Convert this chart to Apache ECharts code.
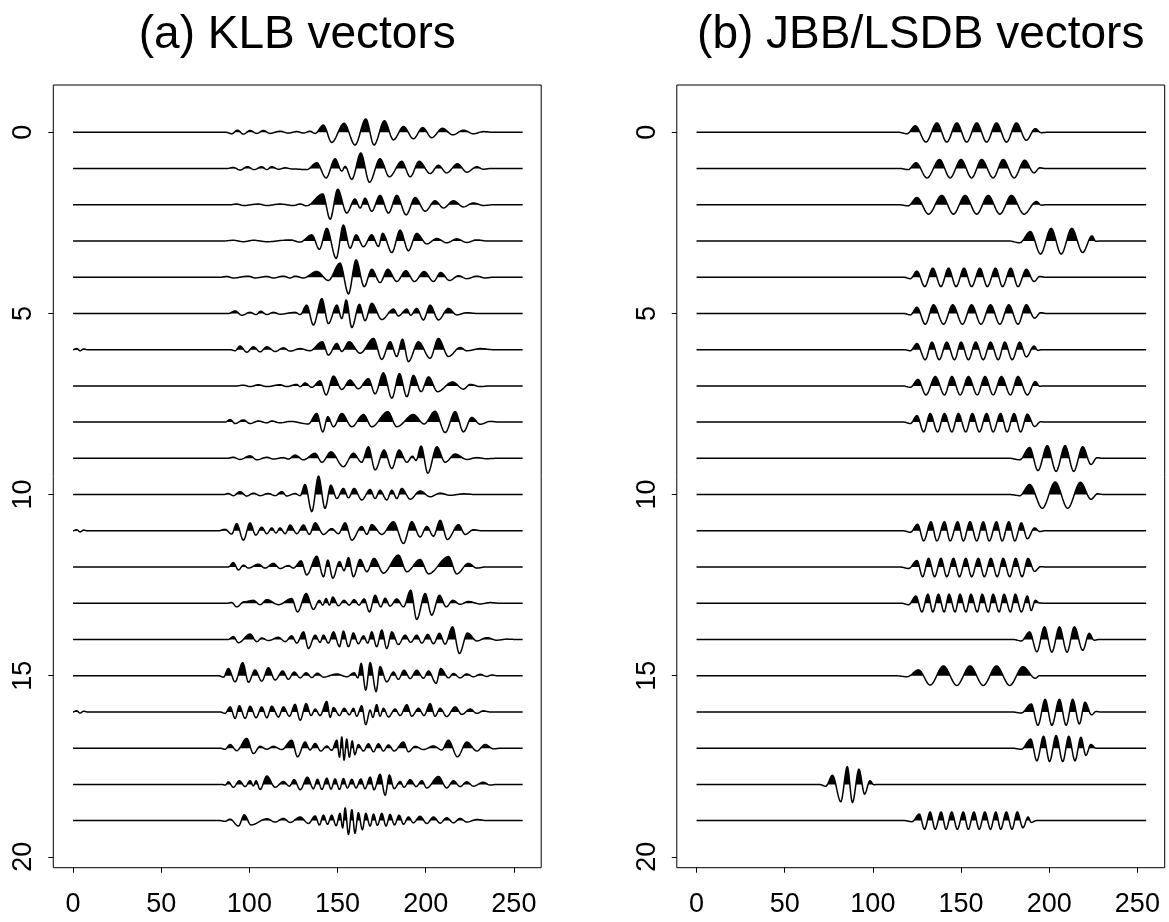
<!DOCTYPE html>
<html>
<head>
<meta charset="utf-8">
<script src="https://cdn.jsdelivr.net/npm/echarts@6/dist/echarts.min.js"></script>
<style>
  html, body { margin: 0; padding: 0; background: #fff; }
  #chart { width: 1169px; height: 922px; }
</style>
</head>
<body>
<div id="chart"></div>
<script>
// Tick positions and trace extent (sample index 0..255)
const X_TICKS = [0, 50, 100, 150, 200, 250];
const Y_TICKS = [0, 5, 10, 15, 20];
const TRACE_START = 0;
const TRACE_END = 255;
const TITLES = ['(a) KLB vectors', '(b) JBB/LSDB vectors'];

// Each vector: list of [sample position, amplitude] at its local extrema.
// Row i is drawn with its baseline at y = i; positive amplitude points up.
const klbVectors = [
  [[90.0,-0.04],[93.2,0.06],[96.6,-0.05],[100.4,0.05],[104.2,-0.03],[107.9,0.05],[111.7,-0.03],[117.4,0.03],[122.1,-0.02],[126.9,0.02],[130.7,-0.02],[134.4,0.03],[137.3,-0.03],[142.0,0.2],[146.7,-0.28],[153.7,0.25],[159.9,-0.35],[166.0,0.37],[170.7,-0.35],[176.6,0.32],[181.7,-0.21],[187.4,0.16],[193.0,-0.18],[198.3,0.13],[203.4,-0.15],[209.5,0.11],[215.4,-0.07],[221.4,0.06],[227.1,-0.04],[232.7,0.02]],
  [[90.9,0.03],[94.7,-0.04],[98.9,0.05],[102.7,-0.03],[107.0,0.05],[109.9,-0.03],[112.7,0.05],[116.5,-0.02],[120.3,0.02],[124.0,-0.01],[132.5,-0.03],[138.2,0.16],[143.5,-0.26],[148.6,0.27],[152.4,-0.07],[154.3,0.06],[158.1,-0.3],[163.2,0.43],[168.1,-0.38],[174.1,0.27],[179.4,-0.23],[186.4,0.2],[191.2,-0.23],[196.3,0.2],[202.5,-0.14],[207.2,0.09],[211.9,-0.12],[218.0,0.13],[223.3,-0.1],[229.0,0.05],[232.7,-0.02]],
  [[92.8,0.02],[96.6,-0.02],[105.1,0.02],[109.9,-0.02],[117.4,0.02],[125.0,-0.02],[128.8,0.02],[132.5,-0.03],[141.6,0.3],[145.8,-0.4],[150.1,0.43],[155.2,-0.23],[159.9,0.16],[162.8,-0.09],[165.6,0.18],[169.4,-0.18],[174.1,0.26],[178.9,-0.23],[183.6,0.26],[188.9,-0.28],[194.0,0.2],[199.7,-0.18],[205.3,0.11],[210.1,-0.09],[215.7,0.11],[221.4,-0.06],[227.1,0.05],[232.7,-0.02]],
  [[90.9,0.02],[96.6,-0.02],[102.3,0.02],[109.9,-0.02],[123.1,0.03],[128.8,-0.03],[135.4,0.17],[139.7,-0.23],[143.9,0.35],[149.2,-0.48],[153.3,0.44],[157.1,-0.2],[160.5,0.17],[164.7,-0.16],[169.4,0.17],[173.2,-0.15],[175.6,0.21],[180.8,-0.32],[185.5,0.3],[190.2,-0.27],[194.9,0.21],[200.6,-0.08],[206.3,0.07],[211.9,-0.05],[217.6,0.06],[223.3,-0.04],[229.0,0.03]],
  [[87.2,0.02],[90.9,-0.02],[99.5,0.03],[103.2,-0.02],[109.9,0.02],[113.6,-0.02],[119.3,0.03],[123.1,-0.02],[125.9,0.03],[130.7,-0.02],[138.2,0.16],[144.8,-0.09],[151.4,0.39],[156.2,-0.46],[160.5,0.48],[165.1,-0.26],[169.4,0.22],[174.1,-0.15],[178.5,0.22],[183.6,-0.12],[188.7,0.18],[193.6,-0.12],[199.1,0.16],[204.4,-0.12],[208.5,0.13],[213.5,-0.09],[218.6,0.04],[223.3,-0.04],[229.0,0.03],[233.7,-0.02]],
  [[91.9,0.07],[95.7,-0.05],[100.4,0.03],[103.8,-0.03],[106.4,0.06],[109.9,-0.03],[113.6,0.03],[117.4,-0.02],[125.9,0.03],[128.8,-0.03],[132.5,0.23],[136.3,-0.32],[141.1,0.41],[144.8,-0.28],[149.6,0.23],[152.4,-0.14],[154.9,0.37],[158.1,-0.39],[162.4,0.25],[165.6,-0.2],[169.4,0.28],[175.1,-0.17],[181.7,0.12],[184.5,-0.07],[189.3,0.12],[191.5,-0.05],[194.9,0.14],[198.7,-0.18],[202.5,0.23],[207.2,-0.18],[212.9,0.14],[217.6,-0.04],[223.3,0.02]],
  [[2.0,0.03],[4.0,-0.03],[6.0,0.02],[91.9,-0.03],[94.7,0.1],[98.5,-0.07],[102.3,0.08],[106.1,-0.06],[109.9,0.08],[114.6,-0.05],[119.3,0.05],[123.1,-0.04],[128.8,0.03],[134.4,-0.03],[141.4,0.22],[144.8,-0.15],[149.6,0.17],[152.4,-0.05],[156.6,0.22],[162.8,-0.1],[170.4,0.31],[175.1,-0.27],[179.8,0.22],[183.6,-0.19],[186.8,0.29],[190.2,-0.33],[195.9,0.22],[202.5,-0.24],[207.2,0.31],[212.9,-0.19],[219.5,0.06],[223.3,-0.03],[230.9,0.03]],
  [[96.6,0.02],[100.4,-0.02],[105.1,0.03],[109.9,-0.02],[117.4,0.03],[121.2,-0.02],[126.9,0.04],[128.8,-0.02],[131.6,0.08],[135.4,-0.04],[140.1,0.14],[143.5,-0.25],[147.7,0.27],[152.4,-0.1],[157.1,0.16],[161.8,-0.08],[167.5,0.2],[171.3,-0.22],[176.0,0.36],[180.8,-0.34],[185.1,0.34],[189.3,-0.3],[193.0,0.29],[197.4,-0.16],[201.6,0.25],[206.7,-0.16],[215.2,0.11],[221.4,-0.09],[225.2,0.04],[230.9,-0.02]],
  [[89.1,0.07],[91.9,-0.04],[96.6,0.06],[100.4,-0.04],[105.1,0.03],[109.9,-0.02],[112.7,0.03],[117.4,-0.02],[123.1,0.02],[133.5,-0.05],[138.2,0.24],[141.6,-0.27],[144.5,0.15],[147.7,-0.13],[152.4,0.24],[158.1,-0.13],[164.7,0.21],[169.4,-0.13],[178.5,0.29],[183.6,-0.13],[193.0,0.21],[199.1,-0.05],[205.3,0.3],[211.0,-0.29],[216.7,0.29],[221.4,-0.27],[226.1,0.13],[230.9,-0.06],[236.5,0.02]],
  [[90.9,0.03],[94.7,-0.03],[100.4,0.07],[104.2,-0.04],[109.9,0.03],[113.6,-0.02],[119.3,0.02],[122.1,-0.02],[125.9,0.09],[130.7,-0.04],[137.3,0.14],[141.1,-0.11],[146.3,0.18],[153.3,-0.23],[159.0,0.14],[163.7,-0.11],[167.5,0.32],[171.3,-0.32],[176.4,0.23],[180.8,-0.28],[184.9,0.23],[189.3,-0.11],[192.5,0.06],[194.5,-0.06],[197.4,0.34],[201.2,-0.41],[206.3,0.32],[211.0,-0.11],[216.7,0.12],[223.3,-0.03],[229.0,0.02],[234.6,-0.01]],
  [[88.1,0.03],[90.9,-0.03],[94.7,0.08],[98.5,-0.04],[102.3,0.04],[106.1,-0.03],[110.8,0.03],[114.6,-0.03],[118.4,0.08],[121.2,-0.04],[125.9,0.03],[128.8,-0.03],[131.6,0.28],[135.4,-0.47],[139.2,0.51],[142.9,-0.38],[146.2,0.26],[149.6,-0.11],[153.3,0.17],[156.2,-0.09],[159.4,0.17],[163.7,-0.15],[168.5,0.14],[171.3,-0.11],[174.1,0.12],[177.9,-0.15],[180.8,0.12],[183.6,-0.11],[186.4,0.17],[191.2,-0.13],[196.8,0.1],[202.5,-0.06],[208.2,0.04],[213.8,-0.02],[221.4,0.02]],
  [[2.0,0.03],[4.0,-0.03],[6.0,0.02],[86.2,0.04],[90.0,-0.09],[92.8,0.2],[96.6,-0.26],[100.4,0.22],[103.6,-0.12],[107.0,0.1],[109.9,-0.08],[112.7,0.08],[115.1,-0.06],[117.4,0.08],[120.3,-0.08],[123.1,0.16],[126.9,-0.08],[130.7,0.16],[134.0,-0.1],[137.3,0.22],[142.0,-0.1],[146.7,0.06],[150.5,-0.08],[154.3,0.22],[158.1,-0.26],[163.7,0.12],[166.6,-0.1],[169.4,0.17],[175.1,-0.1],[181.7,0.25],[187.4,-0.35],[192.1,0.25],[196.8,-0.17],[200.6,0.12],[204.4,-0.15],[208.2,0.29],[212.3,-0.24],[218.6,0.17],[222.4,-0.1],[227.1,0.03]],
  [[90.9,0.12],[93.8,-0.08],[96.6,0.05],[99.5,-0.03],[105.1,0.08],[108.9,-0.03],[113.6,0.1],[117.4,-0.04],[122.1,0.04],[125.0,-0.03],[129.3,0.17],[132.5,-0.22],[138.2,0.3],[142.0,-0.27],[144.5,0.19],[147.3,-0.31],[151.1,0.15],[153.7,-0.1],[156.2,0.26],[159.0,-0.27],[162.8,0.21],[166.6,-0.13],[170.7,0.24],[176.0,-0.17],[184.5,0.33],[189.3,-0.13],[196.8,0.21],[201.6,-0.19],[212.9,0.29],[217.6,-0.19],[224.2,0.1],[229.0,-0.03]],
  [[90.0,0.02],[92.8,-0.1],[97.0,0.04],[102.3,0.08],[106.1,-0.04],[109.9,0.1],[116.5,-0.04],[124.0,0.13],[127.3,-0.24],[132.2,0.27],[136.3,-0.17],[139.7,0.08],[141.6,-0.05],[143.5,0.13],[145.4,-0.05],[147.3,0.17],[150.5,-0.07],[153.7,0.08],[156.6,-0.05],[159.4,0.1],[162.2,-0.05],[165.1,0.12],[168.1,-0.24],[171.3,0.22],[174.5,-0.1],[177.0,0.14],[179.8,-0.08],[183.6,0.12],[187.4,-0.1],[191.5,0.36],[194.9,-0.45],[199.7,0.27],[203.4,-0.33],[207.8,0.22],[211.6,-0.1],[215.4,0.08],[219.5,-0.03],[224.2,0.05],[230.9,-0.02],[236.5,0.02]],
  [[90.9,0.08],[93.8,-0.09],[100.4,0.15],[104.2,-0.06],[107.0,0.04],[110.8,-0.03],[116.5,0.06],[120.3,-0.06],[124.0,0.1],[126.9,-0.1],[130.7,0.21],[133.5,-0.25],[137.3,0.12],[140.1,-0.08],[142.0,0.12],[144.8,-0.1],[147.7,0.21],[151.1,-0.2],[153.3,0.23],[156.2,-0.2],[159.0,0.18],[161.8,-0.12],[164.7,0.1],[167.1,-0.1],[169.4,0.21],[172.2,-0.2],[175.1,0.26],[177.9,-0.25],[180.8,0.21],[184.5,-0.14],[188.3,0.12],[191.5,-0.08],[194.9,0.12],[197.8,-0.1],[201.2,0.14],[204.4,-0.12],[207.8,0.17],[211.0,-0.13],[215.2,0.35],[219.1,-0.39],[223.7,0.18],[229.0,-0.04],[234.6,0.05],[240.3,-0.02],[246.0,0.01]],
  [[85.3,-0.04],[88.1,0.2],[91.9,-0.17],[96.2,0.36],[99.5,-0.18],[103.2,0.16],[107.0,-0.15],[110.8,0.22],[114.6,-0.12],[118.9,0.13],[122.1,-0.1],[125.4,0.1],[128.8,-0.06],[132.2,0.08],[135.4,-0.05],[138.6,0.07],[142.0,-0.04],[149.6,0.05],[155.2,-0.03],[159.4,0.08],[161.5,-0.06],[163.4,0.34],[166.0,-0.4],[168.5,0.36],[171.9,-0.44],[174.1,0.25],[177.9,-0.17],[181.7,0.1],[184.5,-0.1],[187.7,0.15],[191.2,-0.08],[194.9,0.15],[198.7,-0.07],[201.6,0.13],[205.9,-0.21],[208.5,0.2],[212.9,-0.06],[215.7,0.06],[219.5,-0.06],[223.3,0.05],[227.1,-0.03],[230.9,0.04],[234.6,-0.02],[237.5,0.02]],
  [[2.0,0.03],[4.0,-0.03],[6.0,0.02],[86.2,-0.04],[89.1,0.14],[91.9,-0.18],[94.3,0.17],[97.6,-0.18],[100.4,0.16],[103.8,-0.16],[107.0,0.14],[109.9,-0.16],[112.7,0.16],[116.5,-0.14],[119.3,0.14],[122.7,-0.12],[125.9,0.21],[128.8,-0.23],[132.2,0.23],[135.0,-0.1],[137.3,0.08],[140.1,-0.1],[143.9,0.29],[145.8,-0.15],[147.7,0.12],[151.1,-0.1],[153.7,0.1],[156.7,-0.08],[159.0,0.1],[160.9,-0.12],[163.7,0.17],[166.0,-0.35],[168.5,0.05],[170.0,-0.15],[172.2,0.2],[174.1,-0.12],[176.0,0.1],[178.9,-0.14],[182.6,0.08],[185.5,-0.1],[189.3,0.2],[192.1,-0.12],[195.9,0.1],[199.1,-0.1],[202.5,0.23],[205.3,-0.12],[208.2,0.1],[211.9,-0.13],[216.7,0.14],[220.5,-0.07],[225.2,0.08],[229.0,-0.04],[232.7,0.03]],
  [[86.2,-0.03],[89.1,0.1],[92.8,-0.07],[98.5,0.27],[102.3,-0.15],[106.1,0.05],[109.9,-0.03],[113.6,0.05],[118.4,-0.04],[124.0,0.22],[127.3,-0.24],[131.6,0.17],[134.4,-0.05],[137.3,0.13],[140.5,-0.08],[143.9,0.06],[146.7,-0.06],[149.6,0.22],[151.1,-0.25],[152.4,0.31],[153.7,-0.33],[155.2,0.25],[156.7,-0.25],[158.3,0.2],[159.8,-0.18],[161.8,0.1],[164.7,-0.08],[167.5,0.12],[170.4,-0.1],[173.2,0.12],[176.0,-0.08],[178.9,0.09],[182.1,-0.08],[187.4,0.17],[190.2,-0.1],[194.0,0.05],[198.7,-0.04],[204.4,0.06],[209.1,-0.05],[212.9,0.22],[218.0,-0.24],[223.3,0.17],[229.0,-0.08],[233.7,0.1],[238.4,-0.02]],
  [[86.2,-0.02],[88.1,0.07],[90.9,-0.08],[94.3,0.1],[97.6,-0.06],[100.4,0.1],[102.3,-0.04],[103.8,0.1],[106.1,-0.14],[109.9,0.23],[114.6,-0.08],[119.3,0.08],[122.7,-0.05],[125.4,0.13],[128.8,-0.15],[132.9,0.2],[136.3,-0.12],[138.6,0.14],[141.1,-0.14],[143.9,0.17],[146.3,-0.13],[148.6,0.15],[151.1,-0.14],[153.3,0.16],[155.6,-0.1],[158.1,0.14],[160.5,-0.1],[163.2,0.15],[165.6,-0.12],[168.5,0.2],[170.7,-0.15],[174.1,0.28],[177.0,-0.3],[179.4,0.26],[182.1,-0.12],[185.5,0.08],[187.7,-0.08],[191.2,0.13],[194.6,-0.06],[197.8,0.1],[200.6,-0.1],[207.2,0.22],[211.9,-0.1],[215.7,0.1],[219.5,-0.06],[223.3,0.07],[227.1,-0.05],[232.7,0.06],[236.5,-0.02]],
  [[86.2,-0.02],[89.1,0.04],[93.8,-0.15],[97.1,0.16],[100.9,-0.12],[109.9,0.05],[114.6,-0.04],[119.3,0.06],[123.1,-0.05],[128.8,0.1],[133.5,-0.08],[137.3,0.13],[139.7,-0.12],[142.0,0.15],[144.3,-0.1],[146.7,0.15],[149.2,-0.14],[151.4,0.2],[152.9,-0.2],[154.3,0.35],[156.2,-0.38],[158.1,0.3],[159.9,-0.35],[161.8,0.22],[164.1,-0.25],[166.0,0.2],[168.5,-0.15],[170.4,0.18],[172.6,-0.13],[175.1,0.2],[177.5,-0.15],[179.8,0.17],[182.3,-0.12],[184.9,0.15],[187.4,-0.1],[190.2,0.1],[193.0,-0.06],[196.8,0.12],[200.6,-0.08],[204.4,0.1],[208.2,-0.07],[211.9,0.08],[215.7,-0.06],[219.5,0.06],[223.3,-0.04],[229.0,0.03]]
];

const jbbVectors = [
  [[119.4,-0.04],[124.1,0.18],[130.1,-0.27],[136.3,0.26],[141.9,-0.27],[147.6,0.26],[153.2,-0.27],[158.9,0.26],[164.5,-0.27],[170.1,0.26],[175.8,-0.27],[181.4,0.26],[187.0,-0.22],[192.1,0.1],[195.5,-0.01]],
  [[120.0,-0.03],[124.5,0.16],[130.7,-0.26],[137.8,0.25],[143.8,-0.26],[150.0,0.25],[156.0,-0.26],[161.7,0.25],[168.2,-0.26],[173.9,0.25],[180.1,-0.26],[186.1,0.23],[191.4,-0.12],[194.6,0.02]],
  [[120.0,-0.03],[125.0,0.2],[131.6,-0.26],[139.1,0.26],[145.7,-0.26],[152.3,0.26],[158.9,-0.26],[165.4,0.26],[172.0,-0.26],[178.6,0.26],[185.7,-0.26],[192.7,0.09],[195.5,-0.01]],
  [[183.3,-0.05],[189.3,0.26],[195.1,-0.36],[201.1,0.35],[206.8,-0.36],[212.8,0.35],[219.0,-0.32],[224.2,0.14],[226.5,-0.01]],
  [[121.3,-0.04],[125.0,0.17],[129.4,-0.26],[134.0,0.25],[138.6,-0.26],[142.9,0.25],[147.2,-0.26],[151.7,0.25],[156.0,-0.26],[160.7,0.25],[164.9,-0.26],[169.6,0.25],[173.5,-0.26],[178.2,0.25],[182.3,-0.26],[187.0,0.22],[191.4,-0.12],[194.6,0.02]],
  [[121.3,-0.04],[125.0,0.17],[129.7,-0.3],[134.4,0.24],[140.1,-0.3],[145.3,0.24],[150.8,-0.3],[156.0,0.24],[161.3,-0.3],[166.7,0.24],[172.0,-0.3],[177.1,0.24],[182.3,-0.3],[187.0,0.24],[191.7,-0.13],[195.1,0.02]],
  [[121.3,-0.03],[125.0,0.17],[129.7,-0.28],[133.5,0.21],[137.6,-0.28],[141.9,0.21],[146.3,-0.28],[150.0,0.21],[154.2,-0.28],[158.3,0.21],[162.6,-0.28],[166.7,0.21],[171.1,-0.28],[174.8,0.21],[179.0,-0.28],[183.3,0.21],[187.0,-0.2],[191.4,0.1],[193.6,-0.02]],
  [[121.3,-0.04],[125.6,0.18],[130.1,-0.25],[135.4,0.26],[140.6,-0.25],[144.8,0.26],[149.5,-0.25],[154.2,0.26],[159.2,-0.25],[163.6,0.26],[168.2,-0.25],[172.9,0.26],[178.0,-0.25],[182.3,0.26],[187.6,-0.25],[192.1,0.12],[194.6,-0.01]],
  [[121.3,-0.04],[125.0,0.18],[128.8,-0.27],[132.5,0.24],[136.7,-0.27],[140.6,0.24],[144.8,-0.27],[148.5,0.24],[152.7,-0.27],[156.4,0.24],[160.4,-0.27],[164.5,0.24],[168.2,-0.27],[172.4,0.24],[176.1,-0.27],[180.1,0.24],[183.8,-0.27],[187.6,0.22],[191.7,-0.12],[195.1,0.01]],
  [[183.3,-0.04],[188.9,0.3],[193.6,-0.34],[198.9,0.35],[203.9,-0.36],[209.0,0.35],[213.9,-0.36],[219.0,0.32],[223.7,-0.17],[227.1,0.02]],
  [[183.3,-0.03],[188.9,0.28],[196.1,-0.38],[203.4,0.35],[210.5,-0.38],[217.7,0.34],[223.7,-0.13],[227.4,0.02]],
  [[121.3,-0.04],[125.4,0.18],[128.8,-0.28],[132.9,0.25],[136.3,-0.28],[140.6,0.25],[143.8,-0.28],[148.1,0.25],[151.3,-0.28],[155.1,0.25],[158.9,-0.28],[162.6,0.25],[166.0,-0.28],[170.1,0.25],[173.3,-0.28],[177.1,0.25],[180.5,-0.28],[184.2,0.22],[187.6,-0.22],[191.7,0.08],[194.6,-0.02]],
  [[120.3,-0.04],[125.0,0.18],[128.2,-0.27],[131.6,0.24],[135.0,-0.27],[138.6,0.24],[141.9,-0.27],[145.7,0.24],[149.1,-0.27],[152.7,0.24],[156.0,-0.27],[159.8,0.24],[163.2,-0.27],[166.9,0.24],[170.5,-0.27],[173.9,0.24],[177.6,-0.27],[181.0,0.24],[184.6,-0.27],[188.0,0.24],[191.7,-0.12],[195.1,0.01]],
  [[120.3,-0.04],[124.4,0.2],[127.8,-0.24],[131.2,0.25],[134.0,-0.24],[137.2,0.25],[140.4,-0.24],[143.2,0.25],[146.6,-0.24],[149.4,0.25],[152.8,-0.24],[155.6,0.25],[159.2,-0.24],[162.0,0.25],[165.4,-0.24],[168.2,0.25],[171.6,-0.24],[174.4,0.25],[178.0,-0.24],[180.8,0.25],[184.2,-0.24],[187.6,0.2],[189.8,-0.2],[192.1,0.08],[194.5,0.01]],
  [[184.2,-0.04],[188.9,0.21],[193.0,-0.34],[197.3,0.35],[201.5,-0.35],[205.8,0.35],[210.1,-0.35],[214.3,0.35],[219.0,-0.3],[222.7,0.17],[225.5,-0.02]],
  [[119.4,-0.03],[125.9,0.16],[132.5,-0.26],[140.0,0.27],[147.6,-0.27],[155.1,0.27],[162.6,-0.27],[170.1,0.27],[177.6,-0.27],[185.1,0.25],[192.1,-0.07],[194.5,0.0]],
  [[184.2,-0.03],[189.8,0.22],[193.6,-0.37],[197.7,0.35],[201.5,-0.37],[205.8,0.35],[209.6,-0.37],[213.3,0.35],[217.1,-0.33],[220.3,0.27],[224.0,-0.08],[226.5,0.01]],
  [[184.2,-0.03],[189.5,0.25],[193.0,-0.35],[196.8,0.33],[200.2,-0.37],[203.9,0.35],[207.7,-0.37],[211.1,0.33],[214.6,-0.35],[218.0,0.3],[220.8,-0.2],[223.6,0.1],[226.5,0.0]],
  [[73.3,-0.05],[77.1,0.25],[81.8,-0.48],[85.5,0.49],[88.4,-0.5],[92.1,0.42],[95.3,-0.27],[98.3,0.1],[100.6,-0.01]],
  [[122.2,-0.03],[126.3,0.18],[129.3,-0.24],[132.5,0.24],[135.3,-0.24],[138.7,0.24],[141.5,-0.24],[144.7,0.24],[147.9,-0.24],[151.3,0.24],[154.1,-0.24],[157.3,0.24],[160.3,-0.24],[163.5,0.24],[166.7,-0.24],[169.7,0.24],[172.5,-0.24],[175.7,0.24],[178.9,-0.24],[181.9,0.24],[185.1,-0.2],[188.0,0.1],[189.8,-0.05],[192.6,0.0]]
];

// Axis ranges of the two panels (shared)
const X_MIN = -11.2, X_MAX = 265.5;
const Y_MIN = -1.306, Y_MAX = 20.30;
const FONT = '"Liberation Sans", Arial, Helvetica, sans-serif';

// Turn a list of extrema into knots: flat baseline, then each packet of
// extrema starts and ends on the baseline.
function buildKnots(ext) {
  const clusters = [];
  let cur = [ext[0]];
  for (let i = 1; i < ext.length; i++) {
    if (ext[i][0] - ext[i - 1][0] > 14) { clusters.push(cur); cur = [ext[i]]; }
    else cur.push(ext[i]);
  }
  clusters.push(cur);
  const knots = [[TRACE_START, 0]];
  clusters.forEach(c => {
    const n = c.length;
    const lead = n > 1 ? c[1][0] - c[0][0] : 2;
    const tail = n > 1 ? c[n - 1][0] - c[n - 2][0] : 2;
    knots.push([Math.max(TRACE_START, c[0][0] - lead), 0]);
    c.forEach(p => knots.push(p));
    knots.push([Math.min(TRACE_END, c[n - 1][0] + tail), 0]);
  });
  knots.push([TRACE_END, 0]);
  return knots;
}

// Smooth curve through the knots, flat tangent at every knot.
function curvePoints(ext) {
  const k = buildKnots(ext);
  const pts = [k[0]];
  const N = 12;
  for (let i = 1; i < k.length; i++) {
    const [x1, a1] = k[i - 1], [x2, a2] = k[i];
    if (a1 === 0 && a2 === 0) { pts.push([x2, 0]); continue; }
    for (let j = 1; j <= N; j++) {
      const u = j / N, s = u * u * (3 - 2 * u);
      pts.push([x1 + (x2 - x1) * u, a1 + (a2 - a1) * s]);
    }
  }
  return pts;
}

// Positive part only, with exact baseline crossings, for the black fill.
function positivePart(pts) {
  const out = [pts[0][1] > 0 ? [pts[0][0], 0] : pts[0]];
  for (let i = 1; i < pts.length; i++) {
    const [x0, y0] = pts[i - 1], [x1, y1] = pts[i];
    if ((y0 > 0) !== (y1 > 0) && y0 !== y1) {
      const t = y0 / (y0 - y1);
      out.push([x0 + (x1 - x0) * t, 0]);
    }
    out.push([x1, Math.max(y1, 0)]);
  }
  out.push([pts[pts.length - 1][0], 0]);
  return out;
}

function makeRenderer(rows) {
  const cache = rows.map(r => {
    const c = curvePoints(r);
    return { line: c, fill: positivePart(c) };
  });
  return function (params, api) {
    const row = params.dataIndex;
    const d = cache[row];
    const toPx = p => api.coord([p[0], row - p[1]]);
    return {
      type: 'group',
      children: [
        { type: 'polygon', shape: { points: d.fill.map(toPx) }, style: { fill: '#000', stroke: null } },
        { type: 'polyline', shape: { points: d.line.map(toPx) }, style: { stroke: '#000', lineWidth: 1.5, fill: null, lineJoin: 'round' } }
      ]
    };
  };
}

const GRIDS = [
  { left: 53.3, top: 85, width: 487.9, height: 782.7 },
  { left: 676.8, top: 85, width: 487.9, height: 782.7 }
];

const chart = echarts.init(document.getElementById('chart'), null, { renderer: 'canvas' });
chart.setOption({
  animation: false,
  backgroundColor: '#ffffff',
  graphic: TITLES.map((t, i) => ({
    type: 'text',
    x: GRIDS[i].left + GRIDS[i].width / 2,
    y: 35,
    style: { text: t, fontSize: 46, fontFamily: FONT, fill: '#000', align: 'center', verticalAlign: 'middle' }
  })),
  grid: GRIDS.map(g => Object.assign({ show: true, borderColor: '#000', borderWidth: 1, backgroundColor: 'transparent', containLabel: false }, g)),
  xAxis: [0, 1].map(g => ({
    gridIndex: g, type: 'value', min: X_MIN, max: X_MAX, position: 'bottom',
    axisLine: { show: false, onZero: false }, splitLine: { show: false },
    axisTick: { show: true, length: 5, customValues: X_TICKS, lineStyle: { color: '#000', width: 1 } },
    axisLabel: { customValues: X_TICKS, fontSize: 27, fontFamily: FONT, color: '#000', margin: 23 }
  })),
  yAxis: [0, 1].map(g => ({
    gridIndex: g, type: 'value', min: Y_MIN, max: Y_MAX, inverse: true, position: 'left',
    axisLine: { show: false, onZero: false }, splitLine: { show: false },
    axisTick: { show: true, length: 5, customValues: Y_TICKS, lineStyle: { color: '#000', width: 1 } },
    axisLabel: { customValues: Y_TICKS, fontSize: 27, fontFamily: FONT, color: '#000', rotate: 90, margin: 16 }
  })),
  series: [klbVectors, jbbVectors].map((rows, g) => ({
    type: 'custom',
    coordinateSystem: 'cartesian2d',
    xAxisIndex: g, yAxisIndex: g,
    data: rows.map((_, i) => [0, i]),
    encode: { x: 0, y: 1 },
    clip: true, silent: true,
    renderItem: makeRenderer(rows)
  }))
});
</script>
</body>
</html>
